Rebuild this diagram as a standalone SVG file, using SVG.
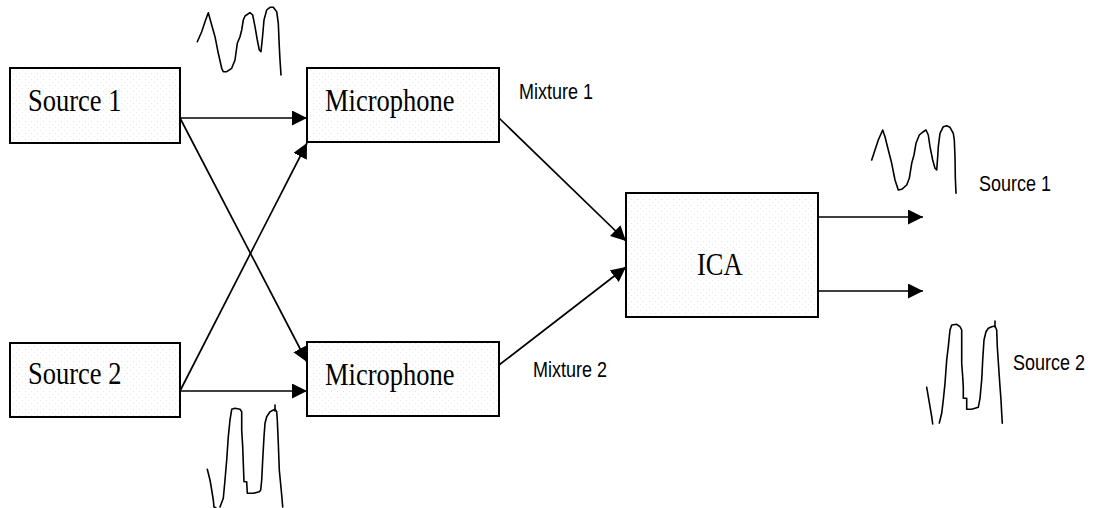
<svg xmlns="http://www.w3.org/2000/svg" width="1094" height="508" viewBox="0 0 1094 508">
  <defs>
    <pattern id="stipple" width="6" height="6" patternUnits="userSpaceOnUse">
      <rect width="6" height="6" fill="#ffffff"/>
      <rect x="1" y="1" width="1" height="1" fill="#e2e2e2"/>
      <rect x="4" y="4" width="1" height="1" fill="#ececec"/>
    </pattern>
    <marker id="arrow" markerUnits="userSpaceOnUse" markerWidth="16" markerHeight="16" refX="15" refY="7.5" orient="auto">
      <path d="M0,0 L15,7.5 L0,15 Z" fill="#000"/>
    </marker>
    <style>
      .box { fill: url(#stipple); stroke: #000; stroke-width: 2; }
      .serif { font-family: "Liberation Serif", "Times New Roman", serif; font-size: 26.5px; fill: #000; }
      .sans { font-family: "Liberation Sans", Arial, sans-serif; font-size: 18px; fill: #000; }
      .link { fill: none; stroke: #000; stroke-width: 1.7; marker-end: url(#arrow); }
      .wave { fill: none; stroke: #000; stroke-width: 1.6; stroke-linejoin: round; stroke-linecap: round; }
    </style>
  </defs>

  <rect width="1094" height="508" fill="#ffffff"/>

  <!-- connectors -->
  <g id="connectors">
    <line class="link" x1="180" y1="118" x2="307" y2="118"/>
    <line class="link" x1="180" y1="118" x2="307" y2="362"/>
    <line class="link" x1="180" y1="391" x2="307" y2="391"/>
    <line class="link" x1="180" y1="391" x2="307" y2="143"/>
    <line class="link" x1="499" y1="118" x2="626" y2="241"/>
    <line class="link" x1="499" y1="365" x2="626" y2="267"/>
    <line class="link" x1="818" y1="217" x2="923" y2="217"/>
    <line class="link" x1="818" y1="291" x2="923" y2="291"/>
  </g>

  <!-- nodes -->
  <g id="source1">
    <rect class="box" x="10" y="68" width="170" height="75"/>
    <text class="serif" transform="translate(28,111) scale(1,1.22)">Source 1</text>
  </g>
  <g id="source2">
    <rect class="box" x="10" y="343" width="170" height="74"/>
    <text class="serif" transform="translate(28,384) scale(1,1.22)">Source 2</text>
  </g>
  <g id="microphone1">
    <rect class="box" x="307" y="68" width="192" height="74"/>
    <text class="serif" transform="translate(325,111) scale(1,1.22)">Microphone</text>
  </g>
  <g id="microphone2">
    <rect class="box" x="307" y="342" width="192" height="74"/>
    <text class="serif" transform="translate(325,385) scale(1,1.22)">Microphone</text>
  </g>
  <g id="ica">
    <rect class="box" x="626" y="193" width="192" height="124"/>
    <text class="serif" transform="translate(697,275) scale(1,1.22)">ICA</text>
  </g>

  <!-- signal labels -->
  <g id="labels">
    <text class="sans" transform="translate(519,99) scale(1,1.22)">Mixture 1</text>
    <text class="sans" transform="translate(533,377) scale(1,1.22)">Mixture 2</text>
    <text class="sans" transform="translate(979,191) scale(1,1.22)">Source 1</text>
    <text class="sans" transform="translate(1013,370) scale(1,1.22)">Source 2</text>
  </g>

  <!-- hand-drawn waveforms -->
  <g id="wave-source1">
    <polyline class="wave" points="197.3,41.7 201.7,31.7 205,21.7 208.3,12.7 211.7,25 215,36.7 218.3,53.3 221.7,68.3 223.3,71.7 226.7,71.7 231.7,68.3 235,60 237.3,43.3 240,36.7 241.7,30 243.3,20 245,16 250,12.7 252.7,15 255,26.7 257.3,40 259.3,50 261,51.7 262.7,35 264,20 266.7,10 270,7.3 273.3,7.3 276.7,11.7 278.3,23.3 279.3,46.7 280,60 281,75"/>
  </g>
  <g id="wave-source2">
    <polyline class="wave" points="207.3,469.3 210,480 211.7,490 213.3,500 214,507 216,508"/>
    <polyline class="wave" points="220,507 223.3,498.3 225,480 226.7,460 228.3,436.7 230,420 231.7,409.3 235,408.3 240,409.3 241.7,411.7 241.7,430 242.7,446.7 243.3,463.3 244,481.7 246.7,481.7 247.3,493.3 253.3,493.3 259.3,491.7 260.7,490 261.7,480 262.7,460 264,436.7 265,423.3 266.7,416.7 270,411.7 275,409.3 276.7,411.7 277.3,420 278.3,443.3 279.3,470 281.7,495 282.7,507"/>
    <line class="wave" x1="275" y1="405" x2="275" y2="411"/>
  </g>
  <g id="wave-output1">
    <polyline class="wave" points="871.7,160 875,150 878.3,140 882.7,130 885,136.7 888.3,150 891.7,163.3 895,180 898.3,190 901.7,189.3 906.7,185 909.3,178.3 911.7,163.3 914,155 916,143.3 919.3,135 923.3,131.7 926,130 928.3,135 930,146.7 932.7,160 935,168.3 936.7,170 937.7,156.7 938.3,146.7 940,133.3 943.3,126.7 946.7,125.7 950,127.3 953.3,133.3 954.3,140 955,156.7 955.3,176.7 956,193.3"/>
  </g>
  <g id="wave-output2">
    <polyline class="wave" points="926.7,387.3 928.3,396.7 930,406.7 931.7,416.7 932.7,424"/>
    <polyline class="wave" points="939.3,423 941.7,413.3 943.3,400 945,383.3 946.7,360 948.3,346.7 950,330 951.7,325 956.7,324.3 960,326.7 961.7,330 961.7,350 961.7,363.3 962.7,376.7 963.3,386.7 963.3,398.3 966.7,398.3 966.7,409.3 971.7,409.3 975,408.3 978.3,407.3 980,398.3 981.7,380 982.7,360 984,340 986,331.7 988.3,328.3 991.7,326.7 995,326 996.7,330 997.3,346.7 998.3,361.7 1000,386.7 1001,400 1001.7,413.3 1002.3,423.3"/>
    <line class="wave" x1="995" y1="321" x2="995" y2="327"/>
  </g>
</svg>
